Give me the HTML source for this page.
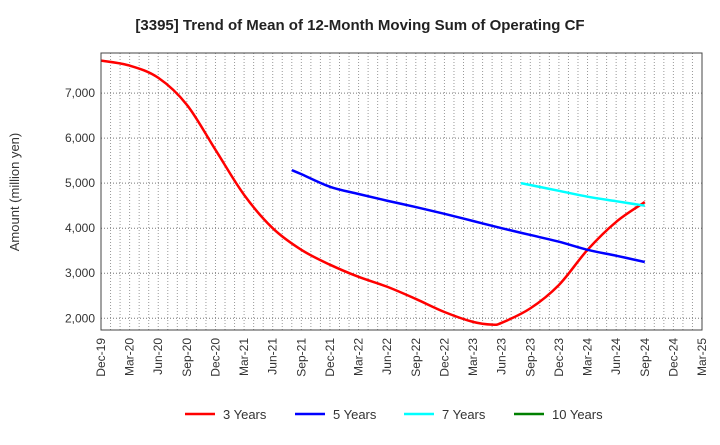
<!DOCTYPE html>
<html><head><meta charset="utf-8"><style>
body{margin:0;background:#fff;font-family:"Liberation Sans",sans-serif;}
svg text{font-family:"Liberation Sans",sans-serif;}
</style></head><body>
<svg id="c" width="720" height="440" xmlns="http://www.w3.org/2000/svg">
<text x="360" y="30" text-anchor="middle" font-size="15" font-weight="bold" fill="#222">[3395]  Trend of Mean of 12-Month Moving Sum of Operating CF</text>
<text transform="translate(19,192) rotate(-90)" text-anchor="middle" font-size="13" fill="#333">Amount (million yen)</text>
<g id="grid"></g><g id="series"></g><g id="axes"></g><g id="legend"></g>
</svg>
<script>
const xLabels=["Dec-19","Mar-20","Jun-20","Sep-20","Dec-20","Mar-21","Jun-21","Sep-21","Dec-21","Mar-22","Jun-22","Sep-22","Dec-22","Mar-23","Jun-23","Sep-23","Dec-23","Mar-24","Jun-24","Sep-24","Dec-24","Mar-25"];
const yTicks=[2000,3000,4000,5000,6000,7000];
const seriesNames=["3 Years","5 Years","7 Years","10 Years"];
const seriesColors=["#ff0000","#0000ff","#00ffff","#008000"];
const red3Months=[0,3,6,9,12,15,18,21,24,27,30,33,36,39,41,42,45,48,51,54,57];
const red3Values=[7720,7610,7340,6740,5740,4740,4000,3520,3190,2920,2700,2430,2140,1920,1860,1900,2220,2740,3520,4140,4580];
const blue5Months=[20,21,24,27,30,33,36,39,42,45,48,51,54,57];
const blue5Values=[5290,5200,4920,4760,4610,4470,4320,4160,4000,3850,3700,3520,3390,3250];
const cyan7Months=[44,45,48,51,54,57];
const cyan7Values=[5000,4960,4830,4700,4600,4500];
const green10Months=[];
const green10Values=[];

const X0=101,X1=702,Y0=53,Y1=330,VMIN=1740,VMAX=7890,MMAX=63;
const xs=m=>X0+(X1-X0)*m/MMAX;
const ys=v=>Y1-(Y1-Y0)*(v-VMIN)/(VMAX-VMIN);
const NS="http://www.w3.org/2000/svg";
function mk(t,p,a){const e=document.createElementNS(NS,t);for(const k in a)e.setAttribute(k,a[k]);p.appendChild(e);return e;}
const grid=document.getElementById('grid'),axes=document.getElementById('axes'),ser=document.getElementById('series'),leg=document.getElementById('legend');
for(let m=1;m<MMAX;m++){const l=mk('line',grid,{x1:xs(m),x2:xs(m),y1:Y0,y2:Y1,stroke:'#999','stroke-width':1,'stroke-dasharray':'1,2'});

}
yTicks.forEach(v=>{const l=mk('line',grid,{x1:X0,x2:X1,y1:ys(v),y2:ys(v),stroke:'#777','stroke-width':1,'stroke-dasharray':'1,2'});


const t=mk('text',axes,{x:X0-6,y:ys(v)+4,'text-anchor':'end','font-size':12,fill:'#333'});t.textContent=v.toLocaleString('en-US');

});
xLabels.forEach((s,i)=>{const x=xs(i*3);const t=mk('text',axes,{transform:`translate(${x+4},338) rotate(-90)`,'text-anchor':'end','font-size':12,fill:'#333'});t.textContent=s;

});
const fr=mk('rect',axes,{x:X0,y:Y0,width:X1-X0,height:Y1-Y0,fill:'none',stroke:'#444','stroke-width':1});


function path(ms,vs){const p=ms.map((m,i)=>[xs(m),ys(vs[i])]);if(!p.length)return'';let d=`M${p[0][0]},${p[0][1]}`;
for(let i=0;i<p.length-1;i++){const a=p[Math.max(i-1,0)],b=p[i],c=p[i+1],e=p[Math.min(i+2,p.length-1)];
d+=` C${b[0]+(c[0]-a[0])/6},${b[1]+(c[1]-a[1])/6} ${c[0]-(e[0]-b[0])/6},${c[1]-(e[1]-b[1])/6} ${c[0]},${c[1]}`;}return d;}
[[red3Months,red3Values],[blue5Months,blue5Values],[cyan7Months,cyan7Values],[green10Months,green10Values]].forEach((s,i)=>{
if(!s[0].length)return;const e=mk('path',ser,{d:path(s[0],s[1]),fill:'none',stroke:seriesColors[i],'stroke-width':2.5});

});
const lx=[185,295,404,514];
seriesNames.forEach((n,i)=>{const g=mk('g',leg,{});


mk('line',g,{x1:lx[i],x2:lx[i]+30,y1:414,y2:414,stroke:seriesColors[i],'stroke-width':2.5});
const t=mk('text',g,{x:lx[i]+38,y:419,'font-size':13,fill:'#333'});t.textContent=n;});
</script>
</body></html>
